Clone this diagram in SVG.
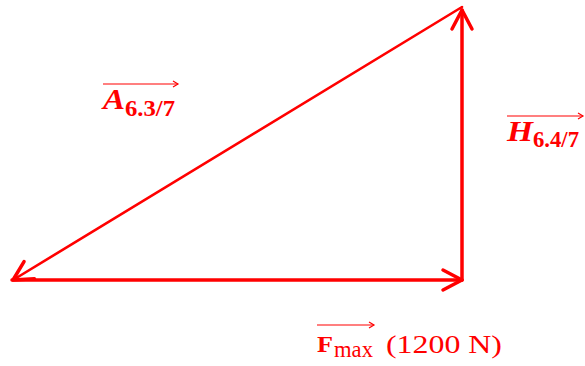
<svg xmlns="http://www.w3.org/2000/svg" width="585" height="366" viewBox="0 0 585 366">
<style>
.v{stroke:#FF0000;fill:none;stroke-linecap:round;stroke-linejoin:round}
.t{fill:#FF0000;font-family:"Liberation Serif","DejaVu Serif",serif}
.ov{stroke:#FF0000;stroke-width:1.2;fill:none}
</style>
<defs>
<marker id="ah" markerUnits="userSpaceOnUse" viewBox="-24 -12 28 24" refX="0" refY="0" markerWidth="28" markerHeight="24" orient="auto" overflow="visible">
<path d="M-19,-10 L0,0 L-19,10" fill="none" stroke="#FF0000" stroke-width="3.5" stroke-linecap="round" stroke-linejoin="round"/>
</marker>
<marker id="sh" markerUnits="userSpaceOnUse" viewBox="-6 -4 8 8" refX="0" refY="0" markerWidth="8" markerHeight="8" orient="auto" overflow="visible">
<path d="M-5,-3 L0,0 L-5,3" fill="none" stroke="#FF0000" stroke-width="1.2"/>
</marker>
</defs>
<g id="connectors">
<line class="v" x1="12" y1="280" x2="462" y2="280" stroke-width="3.5" marker-end="url(#ah)"/>
<line class="v" x1="462" y1="280" x2="462" y2="10" stroke-width="3.5" marker-end="url(#ah)"/>
<line class="v" x1="462" y1="7" x2="13" y2="280" stroke-width="2.6" marker-end="url(#ah)"/>
</g>
<g id="label-A">
<line class="ov" x1="103" y1="84" x2="178" y2="84" marker-end="url(#sh)"/>
<text class="t" x="103" y="109" font-size="30" font-weight="bold" font-style="italic" textLength="22" lengthAdjust="spacingAndGlyphs">A</text>
<text class="t" x="125" y="116" font-size="23" font-weight="bold" textLength="50" lengthAdjust="spacingAndGlyphs">6.3/7</text>
</g>
<g id="label-H">
<line class="ov" x1="507" y1="116" x2="583" y2="116" marker-end="url(#sh)"/>
<text class="t" x="507" y="141" font-size="30" font-weight="bold" font-style="italic" textLength="26" lengthAdjust="spacingAndGlyphs">H</text>
<text class="t" x="533" y="147" font-size="23" font-weight="bold" textLength="46" lengthAdjust="spacingAndGlyphs">6.4/7</text>
</g>
<g id="label-F">
<line class="ov" x1="317" y1="325" x2="374" y2="325" marker-end="url(#sh)"/>
<text class="t" x="317" y="352" font-size="24" font-weight="bold" textLength="16" lengthAdjust="spacingAndGlyphs">F</text>
<text class="t" x="334" y="357" font-size="24" textLength="39" lengthAdjust="spacingAndGlyphs">max</text>
<text class="t" x="386" y="353" font-size="25" textLength="116" lengthAdjust="spacingAndGlyphs">(1200 N)</text>
</g>
</svg>
